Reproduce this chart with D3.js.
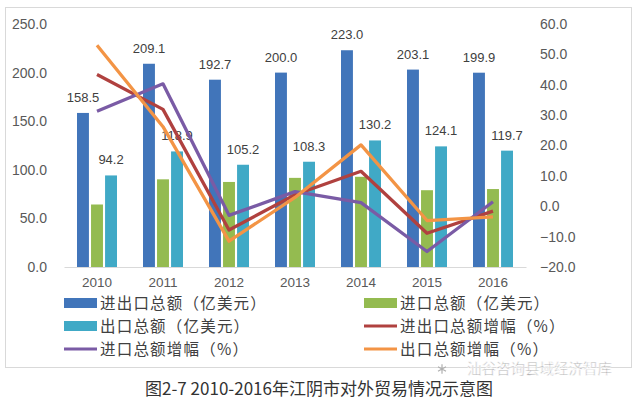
<!DOCTYPE html>
<html>
<head>
<meta charset="utf-8">
<script src="https://cdn.jsdelivr.net/npm/d3@7"></script>
<style>
  body { margin: 0; background: #fff; }
</style>
</head>
<body>
<div id="chart"></div>
<script>
// categories and values
const years = ["2010", "2011", "2012", "2013", "2014", "2015", "2016"]
const totalTrade = [158.5, 209.1, 192.7, 200.0, 223.0, 203.1, 199.9]
const importTrade = [64.3, 90.2, 87.5, 91.7, 92.8, 79.0, 80.2]
const exportTrade = [94.2, 118.9, 105.2, 108.3, 130.2, 124.1, 119.7]
const totalGrowth = [43.4, 31.9, -7.8, 3.8, 11.5, -8.9, -1.6]
const importGrowth = [31.3, 40.3, -3.0, 4.8, 1.2, -14.9, 1.5]
const exportGrowth = [53.0, 26.2, -11.5, 2.9, 20.2, -4.7, -3.5]

const leftTicks = [0, 50, 100, 150, 200, 250]
const rightTicks = [-20, -10, 0, 10, 20, 30, 40, 50, 60]

const barNames = ["进出口总额（亿美元）", "进口总额（亿美元）", "出口总额（亿美元）"]
const lineNames = ["进出口总额增幅（%）", "进口总额增幅（%）", "出口总额增幅（%）"]
const caption = "图2-7 2010-2016年江阴市对外贸易情况示意图"
const watermark = "汕谷咨询县域经济智库"

const width = 639, height = 400
const plot = {left: 64, right: 526, top: 24, bottom: 267}

const barColors = ["#4175BA", "#94BB50", "#40A9C6"]
const lineColors = ["#B0413F", "#7A5BA5", "#F39445"]

const numFont = "'Liberation Sans', Arial, sans-serif"
const cjkFont = "'Noto Sans CJK SC', 'Noto Sans', sans-serif"

const svg = d3.select("#chart")
  .append("svg")
    .attr("width", width)
    .attr("height", height)

// outer frame of the chart
svg.append("rect")
  .attr("x", 5.5)
  .attr("y", 7.5)
  .attr("width", 626)
  .attr("height", 360)
  .attr("fill", "#fff")
  .attr("stroke", "#d9d9d9")

//////////
// SCALES //
//////////
const x = d3.scaleBand()
  .domain(years)
  .range([plot.left, plot.right])
  .paddingInner(0.394)
  .paddingOuter(0.197)

const xSub = d3.scaleBand()
  .domain([0, 1, 2])
  .range([0, x.bandwidth()])
  .paddingInner(0.15)

const yLeft = d3.scaleLinear()
  .domain([0, 250])
  .range([plot.bottom, plot.top])

const yRight = d3.scaleLinear()
  .domain([-20, 60])
  .range([plot.bottom, plot.top])

//////////
// AXES //
//////////
const leftAxis = svg.append("g")
  .attr("transform", `translate(${plot.left - 17}, 0)`)
  .call(d3.axisLeft(yLeft).tickValues(leftTicks).tickFormat(d3.format(".1f")).tickSize(0).tickPadding(0))
leftAxis.select(".domain").remove()

const rightAxis = svg.append("g")
  .attr("transform", `translate(540, 0)`)
  .call(d3.axisRight(yRight).tickValues(rightTicks).tickFormat(d3.format(".1f")).tickSize(0).tickPadding(0))
rightAxis.select(".domain").remove()

svg.selectAll(".tick text")
  .attr("fill", "#595959")
  .style("font", `14px ${numFont}`)

const bottomAxis = svg.append("g")
  .attr("transform", `translate(0, ${plot.bottom})`)
  .call(d3.axisBottom(x).tickSize(0).tickPadding(10))
bottomAxis.select(".domain").attr("stroke", "#d9d9d9")
bottomAxis.selectAll("text")
  .attr("fill", "#595959")
  .style("font", `13.5px ${numFont}`)

//////////
// BARS //
//////////
const barSeries = [totalTrade, importTrade, exportTrade]

barSeries.forEach((values, s) => {
  svg.append("g")
    .selectAll("rect")
    .data(values)
    .join("rect")
      .attr("x", (d, i) => x(years[i]) + xSub(s))
      .attr("y", d => yLeft(d))
      .attr("width", xSub.bandwidth())
      .attr("height", d => plot.bottom - yLeft(d))
      .attr("fill", barColors[s])
})

// value labels only on total and export bars
;[0, 2].forEach(s => {
  svg.append("g")
    .selectAll("text")
    .data(barSeries[s])
    .join("text")
      .attr("x", (d, i) => x(years[i]) + xSub(s) + xSub.bandwidth() / 2)
      .attr("y", d => yLeft(d) - 11)
      .attr("text-anchor", "middle")
      .attr("fill", "#404040")
      .style("font", `13px ${numFont}`)
      .text(d => d.toFixed(1))
})

//////////
// LINES //
//////////
const line = d3.line()
  .x((d, i) => x(years[i]) + x.bandwidth() / 2)
  .y(d => yRight(d))

;[totalGrowth, importGrowth, exportGrowth].forEach((values, s) => {
  svg.append("path")
    .datum(values)
    .attr("fill", "none")
    .attr("stroke", lineColors[s])
    .attr("stroke-width", 3.3)
    .attr("stroke-linejoin", "round")
    .attr("d", line)
})

//////////
// LEGEND //
//////////
const legendItems = [
  {name: barNames[0], color: barColors[0], type: "bar"},
  {name: barNames[1], color: barColors[1], type: "bar"},
  {name: barNames[2], color: barColors[2], type: "bar"},
  {name: lineNames[0], color: lineColors[0], type: "line"},
  {name: lineNames[1], color: lineColors[1], type: "line"},
  {name: lineNames[2], color: lineColors[2], type: "line"}
]

const legend = svg.append("g")
  .selectAll("g")
  .data(legendItems)
  .join("g")
    .attr("transform", (d, i) => `translate(${i % 2 === 0 ? 64 : 364}, ${303 + Math.floor(i / 2) * 23})`)

legend.append("rect")
  .attr("x", 0)
  .attr("y", d => d.type === "bar" ? -5 : -1.5)
  .attr("width", 33)
  .attr("height", d => d.type === "bar" ? 10 : 3)
  .attr("fill", d => d.color)

legend.append("text")
  .attr("x", 36)
  .attr("y", 0)
  .attr("dy", "0.36em")
  .attr("fill", "#404040")
  .style("font", `15.5px ${cjkFont}`)
  .style("letter-spacing", "1.2px")
  .text(d => d.name)

//////////
// CAPTION //
//////////
// small watermark icon
svg.append("path")
  .attr("transform", "translate(442, 369)")
  .attr("d", d3.symbol(d3.symbolAsterisk, 60)())
  .attr("fill", "none")
  .attr("stroke", "#b0b0b0")
  .attr("stroke-width", 1.2)

svg.append("text")
  .attr("x", 467)
  .attr("y", 374)
  .attr("fill", "#9a9a9a")
  .attr("stroke", "#fff")
  .attr("stroke-width", 0.6)
  .style("font", `14.5px ${cjkFont}`)
  .text(watermark)

svg.append("text")
  .attr("x", 319)
  .attr("y", 395)
  .attr("text-anchor", "middle")
  .attr("fill", "#333")
  .style("font", `17px ${cjkFont}`)
  .text(caption)
</script>
</body>
</html>
